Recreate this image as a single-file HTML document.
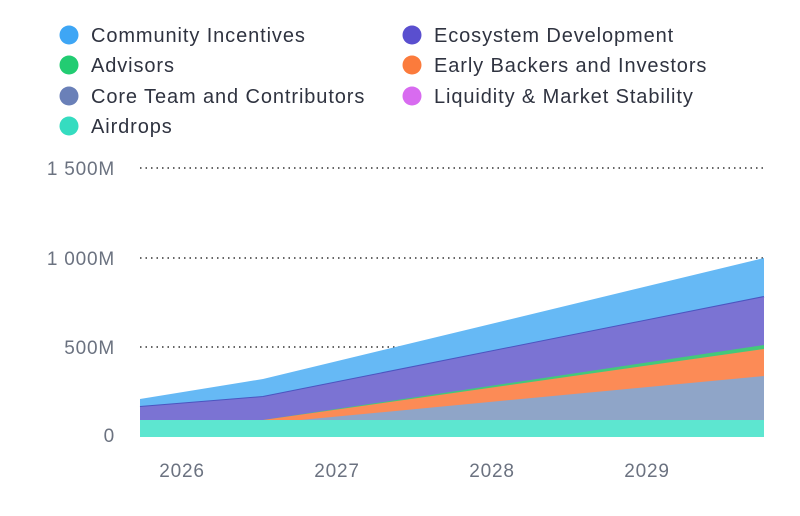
<!DOCTYPE html>
<html><head><meta charset="utf-8"><style>
body{margin:0;background:#fff;width:800px;height:511px;overflow:hidden;font-family:"Liberation Sans",sans-serif}
</style></head><body>
<svg width="800" height="511" viewBox="0 0 800 511" xmlns="http://www.w3.org/2000/svg" font-family="Liberation Sans, sans-serif">
<g font-size="20" fill="#2f3340" letter-spacing="0.9">
<circle cx="69" cy="35" r="9.5" fill="#3ea6f5"/><text x="91" y="42">Community Incentives</text>
<circle cx="69" cy="65" r="9.5" fill="#22cc72"/><text x="91" y="72">Advisors</text>
<circle cx="69" cy="96" r="9.5" fill="#6a80b8"/><text x="91" y="103">Core Team and Contributors</text>
<circle cx="69" cy="126" r="9.5" fill="#35dcc0"/><text x="91" y="133">Airdrops</text>
<circle cx="412" cy="35" r="9.5" fill="#5a4fcf"/><text x="434" y="42">Ecosystem Development</text>
<circle cx="412" cy="65" r="9.5" fill="#fb7b3c"/><text x="434" y="72">Early Backers and Investors</text>
<circle cx="412" cy="96" r="9.5" fill="#d86bf0"/><text x="434" y="103">Liquidity &amp; Market Stability</text>
</g>
<g stroke="#333" stroke-width="1.5" stroke-dasharray="1.5 4">
<line x1="140" y1="168" x2="766" y2="168"/>
<line x1="140" y1="258" x2="766" y2="258"/>
<line x1="140" y1="347" x2="766" y2="347"/>
<line x1="140" y1="435" x2="766" y2="435"/>
</g>
<polygon points="140,399 263,379 764,258 764,435 140,435" fill="#66b9f5"/>
<polyline points="140,407 263,397 764,297" fill="none" stroke="#4b55c0" stroke-width="2"/>
<polygon points="140,407 263,397 764,297 764,435 140,435" fill="#7b73d3"/>
<polygon points="263,420 764,345 764,435 263,435" fill="#44c87a"/>
<polygon points="263,420 764,349 764,435 263,435" fill="#fc8b56"/>
<polygon points="300,420 764,376 764,435 300,435" fill="#8fa5c8"/>
<polygon points="140,420 764,420 764,437 140,437" fill="#5de6d0"/>
<g font-size="19" fill="#6b7280" text-anchor="end" letter-spacing="0.8">
<text x="115" y="175">1 500M</text>
<text x="115" y="265">1 000M</text>
<text x="115" y="354">500M</text>
<text x="115" y="442">0</text>
</g>
<g font-size="19" fill="#6b7280" text-anchor="middle" letter-spacing="0.8">
<text x="182" y="477">2026</text>
<text x="337" y="477">2027</text>
<text x="492" y="477">2028</text>
<text x="647" y="477">2029</text>
</g>
</svg>
</body></html>
